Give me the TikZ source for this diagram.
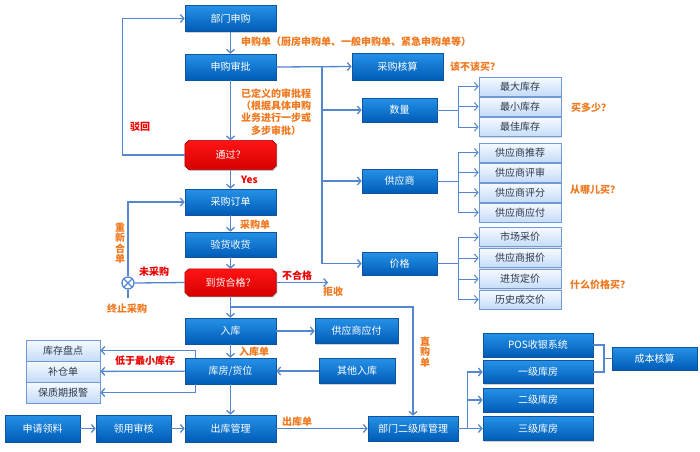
\documentclass[tikz,border=0pt]{standalone}
\usepackage{fontspec}
\setmainfont{Noto Sans CJK SC}
\usetikzlibrary{arrows.meta,shadows,calc}

\definecolor{lineblue}{RGB}{84,135,205}
\definecolor{boxtop}{RGB}{38,145,232}
\definecolor{boxbot}{RGB}{0,92,182}
\definecolor{boxedge}{RGB}{16,84,160}
\definecolor{lighttop}{RGB}{246,250,255}
\definecolor{lightbot}{RGB}{196,220,248}
\definecolor{lightedge}{RGB}{110,155,215}
\definecolor{lighttext}{RGB}{45,55,75}
\definecolor{redtop}{RGB}{255,20,20}
\definecolor{redbot}{RGB}{215,0,0}
\definecolor{rededge}{RGB}{170,0,0}
\definecolor{orangelab}{RGB}{240,120,30}
\definecolor{redlab}{RGB}{235,0,0}

\pgfdeclarelayer{back}
\pgfsetlayers{back,main}

\tikzset{
  dbox/.style={draw=boxedge, line width=0.6pt, top color=boxtop, bottom color=boxbot,
    text=white, inner sep=0pt, minimum width=91, minimum height=26,
    font=\fontsize{10}{12}\selectfont,
    drop shadow={opacity=0.35, shadow xshift=1.2pt, shadow yshift=-1.2pt}},
  lbox/.style={draw=lightedge, line width=0.8pt, top color=lighttop, bottom color=lightbot,
    text=lighttext, inner sep=0pt, minimum width=82, minimum height=19,
    font=\fontsize{10}{12}\selectfont,
    drop shadow={opacity=0.25, shadow xshift=1pt, shadow yshift=-1pt}},
  rbox/.style={rectangle, text=white, inner sep=0pt, minimum width=91, minimum height=27,
    font=\fontsize{10}{12}\selectfont},
  redfill/.style={draw=rededge, line width=0.6pt, top color=redtop, bottom color=redbot,
    drop shadow={opacity=0.35, shadow xshift=1.2pt, shadow yshift=-1.2pt}},
  arr/.style={draw=lineblue, line width=1.3pt, -{Straight Barb[length=3.5pt,width=8pt]}},
  ln/.style={draw=lineblue, line width=1.3pt},
  olab/.style={text=orangelab, inner sep=0pt, font=\bfseries\fontsize{10}{12}\selectfont},
  rlab/.style={text=redlab, inner sep=0pt, font=\bfseries\fontsize{10}{12}\selectfont},
  vlab/.style={align=center, font=\bfseries\fontsize{10}{10.5}\selectfont}
}

\begin{document}
\begin{tikzpicture}[x=1pt, y=-1pt]
\begin{pgfonlayer}{back}
\fill[white] (0,0) rectangle (700,451);
\end{pgfonlayer}
\useasboundingbox (0,0) rectangle (700,451);

% main column
\node[dbox] (bumen) at (230.5,18.5) {部门申购};
\node[dbox] (shenpi) at (230.5,67) {申购审批};
\node[rbox, minimum height=29] (tongguo) at (230.5,155) {通过？};
\node[dbox] (dingdan) at (230.5,202) {采购订单};
\node[dbox, minimum height=25] (yanhuo) at (230.5,244.5) {验货收货};
\node[rbox] (hege) at (230.5,282.5) {到货合格？};
\node[dbox] (ruku) at (230.5,331) {入库};
\node[dbox] (kufang) at (230.5,371) {库房/货位};
\node[dbox, minimum height=27] (chuku) at (230.5,428.5) {出库管理};

% red decision boxes with cut corners
\begin{pgfonlayer}{back}
\foreach \r in {tongguo,hege}
  \path[redfill] ([xshift=4pt]\r.north west) -- ([xshift=-4pt]\r.north east)
    -- ([yshift=-4pt]\r.north east) -- ([yshift=4pt]\r.south east)
    -- ([xshift=-4pt]\r.south east) -- ([xshift=4pt]\r.south west)
    -- ([yshift=4pt]\r.south west) -- ([yshift=-4pt]\r.north west) -- cycle;
\end{pgfonlayer}

% left side
\node[dbox, minimum width=75, minimum height=27] (shenqing) at (42.5,428.5) {申请领料};
\node[dbox, minimum width=75, minimum height=27] (lingyong) at (133.5,428.5) {领用审核};
\node[lbox, minimum width=74, minimum height=21] (pandian) at (63,350.5) {库存盘点};
\node[lbox, minimum width=74, minimum height=21] (bucang) at (63,371.5) {补仓单};
\node[lbox, minimum width=74, minimum height=21] (baojing) at (63,392.5) {保质期报警};

% lower right
\node[dbox, minimum width=83, minimum height=25] (yingfu2) at (356.5,331) {供应商应付};
\node[dbox, minimum width=76, minimum height=25] (qita) at (357,371) {其他入库};
\node[dbox, minimum width=90, minimum height=25] (erjiku) at (413,428.5) {部门二级库管理};
\node[dbox, minimum width=110, minimum height=24] (pos) at (538,345) {POS收银系统};
\node[dbox, minimum width=110, minimum height=23] (kf1) at (538,372) {一级库房};
\node[dbox, minimum width=110, minimum height=24] (kf2) at (538,400) {二级库房};
\node[dbox, minimum width=110, minimum height=24] (kf3) at (538,428.5) {三级库房};
\node[dbox, minimum width=85, minimum height=23] (chengben) at (654.5,358.5) {成本核算};

% upper right
\node[dbox, minimum height=27] (hesuan) at (397.5,66.5) {采购核算};
\node[dbox, minimum width=75, minimum height=24] (shuliang) at (399.5,110) {数量};
\node[dbox, minimum width=75, minimum height=24] (gys) at (399.5,181) {供应商};
\node[dbox, minimum width=75, minimum height=23] (jiage) at (399.5,263.5) {价格};
\foreach \n/\y/\t in {zuida/86.5/最大库存, zuixiao/106.5/最小库存, zuijia/127/最佳库存}
  \node[lbox] (\n) at (520,\y) {\t};
\foreach \n/\y/\t in {tuijian/152.5/供应商推荐, pingshen/172.5/供应商评审, pingfen/192.5/供应商评分, yingfu/212.5/供应商应付}
  \node[lbox] (\n) at (520,\y) {\t};
\foreach \n/\y/\t in {caijia/237/市场采价, baojia/258/供应商报价, dingjia/279/进货定价, lishi/299.5/历史成交价}
  \node[lbox] (\n) at (520,\y) {\t};

% stop sign
\node[circle, draw=lineblue, line width=1.3pt, minimum size=12, inner sep=0pt,
  path picture={\draw[lineblue, line width=1.3pt]
    (path picture bounding box.north west) -- (path picture bounding box.south east)
    (path picture bounding box.north east) -- (path picture bounding box.south west);}]
  (cross) at (128,283) {};

% labels
\node[olab, anchor=west] (l-shengou) at (241,42) {申购单（厨房申购单、一般申购单、紧急申购单等）};
\node[olab, align=center, font=\bfseries\fontsize{10}{12.3}\selectfont] (l-shenpi) at (276,112)
  {已定义的审批程\\（根据具体申购\\业务进行一步或\\多步审批）};
\node[rlab] (l-bohui) at (140,127) {驳回};
\node[rlab, anchor=west] (l-yes) at (241,180) {Yes};
\node[olab, anchor=west] (l-caigou) at (240,225) {采购单};
\node[olab, vlab] (l-chongxin) at (120,243) {重\\新\\合\\单};
\node[rlab] (l-weicaigou) at (154,272) {未采购};
\node[olab] (l-zhongzhi) at (127,309) {终止采购};
\node[rlab] (l-buhege) at (297,276) {不合格};
\node[olab] (l-jushou) at (333,292) {拒收};
\node[olab, vlab] (l-zhigou) at (425,352) {直\\购\\单};
\node[olab, anchor=west] (l-rukudan) at (239,352) {入库单};
\node[rlab] (l-diyu) at (145,361) {低于最小库存};
\node[olab, anchor=west] (l-chukudan) at (282,422) {出库单};
\node[olab, anchor=west] (q-gai) at (450,67) {该不该买？};
\node[olab, anchor=west] (q-duo) at (571,108) {买多少？};
\node[olab, anchor=west] (q-na) at (570,190) {从哪儿买？};
\node[olab, anchor=west] (q-jia) at (570,285) {什么价格买？};

% connectors
\draw[arr] (bumen) -- (shenpi);
\draw[arr] (shenpi) -- (tongguo);
\draw[arr] (tongguo) -- (dingdan);
\draw[arr] (dingdan) -- (yanhuo);
\draw[arr] (yanhuo) -- (hege);
\draw[arr] (hege) -- (ruku);
\draw[arr] (ruku) -- (kufang);
\draw[arr] (kufang) -- (chuku);
\draw[arr] (tongguo.west) -- ++(-62,0) |- (bumen.west);
\draw[arr] (shenpi.east) -- (hesuan.west);
\coordinate (trunk) at (322,67);
\foreach \n in {shuliang,gys,jiage}
  \draw[arr] (trunk) |- (\n.west);
\foreach \n in {zuida,zuixiao,zuijia}
  \draw[arr, line width=1pt] (shuliang.east) -- ++(21,0) |- (\n.west);
\foreach \n in {tuijian,pingshen,pingfen,yingfu}
  \draw[arr, line width=1pt] (gys.east) -- ++(21,0) |- (\n.west);
\foreach \n in {caijia,baojia,dingjia,lishi}
  \draw[arr, line width=1pt] (jiage.east) -- ++(21,0) |- (\n.west);
\draw[ln] (hege.west) -- (cross.east);
\draw[arr] (cross.north) |- (dingdan.west);
\draw[ln] (cross.south) -- ++(0,8);
\coordinate (jushou) at (328,282.5);
\draw[arr] (hege.east) -- (jushou);
\coordinate (zhigou) at (230.5,307);
\draw[arr] (zhigou) -| (erjiku.north);
\draw[arr] (ruku) -- (yingfu2);
\draw[arr] (qita) -- (kufang);
\draw[arr] ([xshift=-35pt]kufang.north) |- (pandian.east);
\draw[arr] (kufang) -- (bucang);
\draw[arr] ([xshift=-35pt]kufang.south) |- (baojing.east);
\draw[arr] (shenqing) -- (lingyong);
\draw[arr] (lingyong) -- (chuku);
\draw[arr] (chuku) -- (erjiku);
\foreach \n in {kf1,kf2,kf3}
  \draw[arr] (erjiku.east) -- ++(9,0) |- (\n.west);
\coordinate (cbj) at (604,358.5);
\draw[ln] (pos.east) -| (cbj) |- (kf1.east);
\draw[ln] (cbj) -- (chengben.west);
\end{tikzpicture}
\end{document}
